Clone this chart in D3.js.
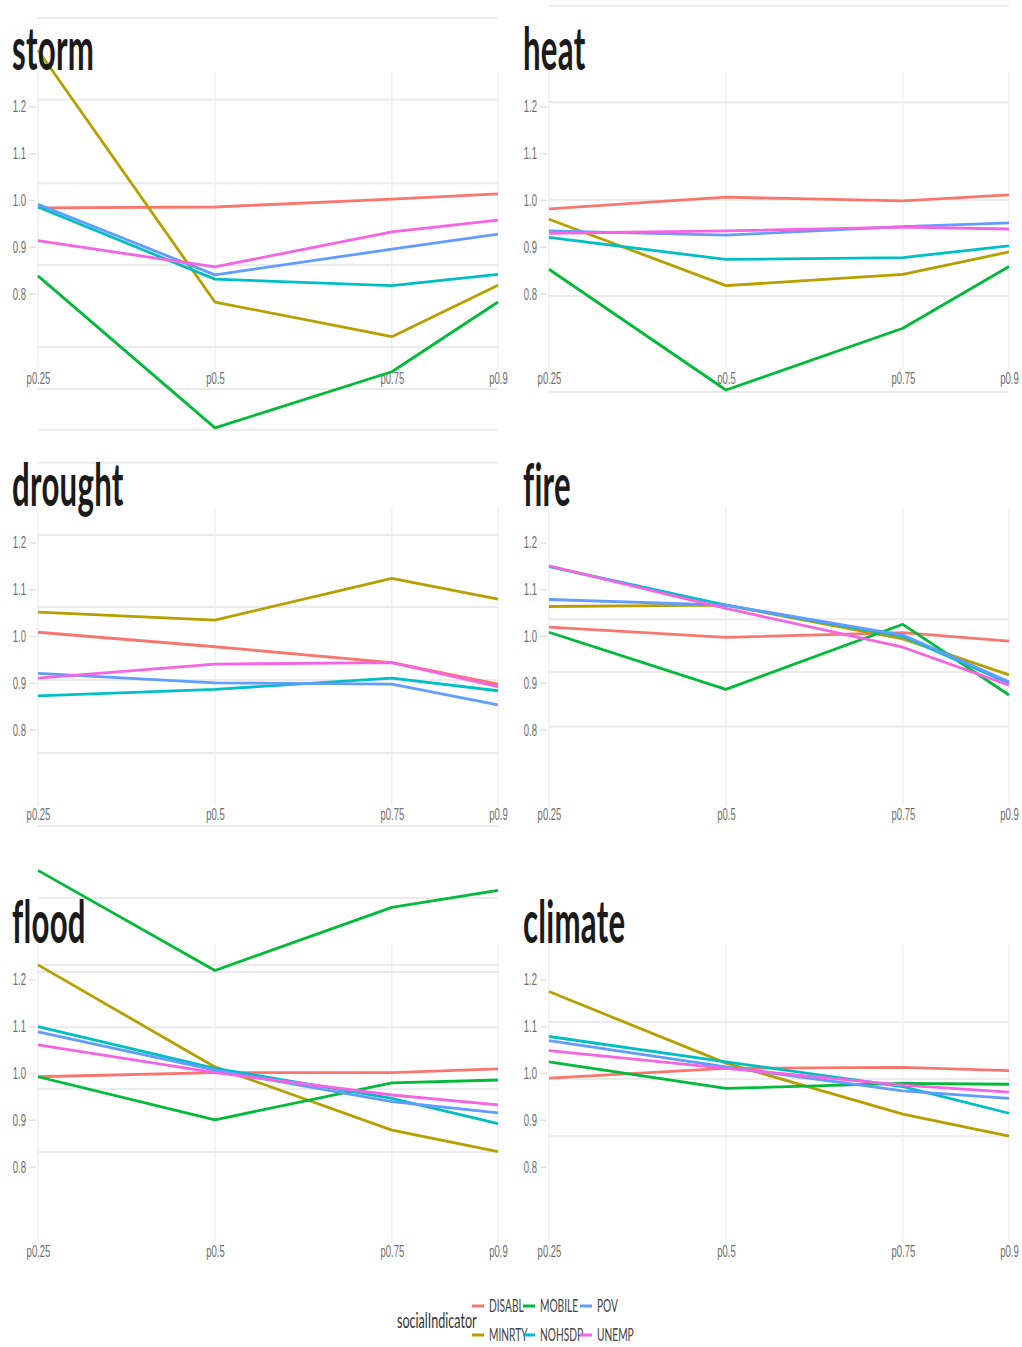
<!DOCTYPE html>
<html>
<head>
<meta charset="utf-8">
<script src="https://cdn.jsdelivr.net/npm/d3@7"></script>
<style>
  body { margin: 0; background: #fff; }
  svg { display: block; font-family: Lato, "Open Sans", sans-serif; }
  svg text { font-variant-ligatures: none; font-feature-settings: "liga" 0, "clig" 0; }
</style>
</head>
<body>
<div id="chart"></div>
<script>
const quantiles = [0.25, 0.5, 0.75, 0.9];
const indicators = ["DISABL", "MINRTY", "MOBILE", "NOHSDP", "POV", "UNEMP"];
const palette = ["#F8766D", "#B79F00", "#00BA38", "#00BFC4", "#619CFF", "#F564E3"];
const hazards = ["storm", "heat", "drought", "fire", "flood", "climate"];
const yTicks = [0.8, 0.9, 1.0, 1.1, 1.2];

// one row per line: indicator, then value at p0.25, p0.5, p0.75, p0.9
const storm = [
  ["DISABL", 0.983, 0.985, 1.002, 1.013],
  ["MINRTY", 1.320, 0.782, 0.708, 0.818],
  ["MOBILE", 0.838, 0.513, 0.633, 0.782],
  ["NOHSDP", 0.985, 0.831, 0.817, 0.841],
  ["POV",    0.991, 0.840, 0.895, 0.927],
  ["UNEMP",  0.913, 0.857, 0.932, 0.957]
];
const heat = [
  ["DISABL", 0.981, 1.006, 0.998, 1.011],
  ["MINRTY", 0.959, 0.817, 0.841, 0.889],
  ["MOBILE", 0.852, 0.594, 0.726, 0.858],
  ["NOHSDP", 0.920, 0.873, 0.877, 0.902],
  ["POV",    0.934, 0.925, 0.943, 0.951],
  ["UNEMP",  0.929, 0.934, 0.942, 0.938]
];
const drought = [
  ["DISABL", 1.008, 0.977, 0.943, 0.897],
  ["MINRTY", 1.051, 1.034, 1.123, 1.079],
  ["NOHSDP", 0.872, 0.886, 0.910, 0.883],
  ["POV",    0.920, 0.900, 0.897, 0.853],
  ["UNEMP",  0.910, 0.940, 0.943, 0.892]
];
const fire = [
  ["DISABL", 1.019, 0.997, 1.007, 0.989],
  ["MINRTY", 1.063, 1.066, 0.994, 0.917],
  ["MOBILE", 1.008, 0.886, 1.025, 0.874],
  ["NOHSDP", 1.148, 1.066, 0.999, 0.899],
  ["POV",    1.078, 1.066, 1.002, 0.902],
  ["UNEMP",  1.150, 1.059, 0.976, 0.895]
];
const flood = [
  ["DISABL", 0.992, 1.001, 1.001, 1.009],
  ["MINRTY", 1.231, 1.013, 0.878, 0.832],
  ["MOBILE", 1.433, 1.219, 1.354, 1.390],
  ["MOBILE", 0.992, 0.900, 0.979, 0.985],
  ["NOHSDP", 1.099, 1.010, 0.946, 0.892],
  ["POV",    1.088, 1.006, 0.939, 0.915],
  ["UNEMP",  1.060, 1.001, 0.953, 0.932]
];
const climate = [
  ["DISABL", 0.989, 1.010, 1.012, 1.005],
  ["MINRTY", 1.174, 1.021, 0.912, 0.865],
  ["MOBILE", 1.024, 0.967, 0.978, 0.976],
  ["NOHSDP", 1.078, 1.024, 0.971, 0.914],
  ["POV",    1.069, 1.013, 0.962, 0.946],
  ["UNEMP",  1.048, 1.010, 0.974, 0.959]
];
const panelData = [storm, heat, drought, fire, flood, climate];

// horizontal grid lines, in y units of each panel
const gridStorm = [1.389, 1.214, 1.036, 0.861, 0.686, 0.596, 0.509];
const gridHeat = [1.415, 1.209, 1.0, 0.795, 0.590];
const gridDrought = [1.370, 1.216, 1.062, 0.906, 0.750, 0.594];
const gridFire = [1.036, 0.923, 0.806];
const gridFlood = [1.374, 1.231, 1.216, 1.098, 0.966, 0.831];
const gridClimate = [1.109, 0.987, 0.865];
const panelGrid = [gridStorm, gridHeat, gridDrought, gridFire, gridFlood, gridClimate];

const W = 1022, H = 1347;
const colX = [[38, 498], [549, 1009]];
const rowMid = [200, 636, 1073];   // pixel of y = 1.0
const unitPx = 468;                // pixels per 1.0 of y
const textSqueeze = 0.56;

const color = d3.scaleOrdinal().domain(indicators).range(palette);

const svg = d3.select("#chart").append("svg")
  .attr("width", W)
  .attr("height", H);

function squeeze(sel, k) {
  sel.each(function () {
    const t = d3.select(this);
    const x = +t.attr("x") || 0;
    const y = +t.attr("y") || 0;
    t.attr("x", 0).attr("y", 0)
      .attr("transform", `translate(${x},${y}) scale(${k},1)`);
  });
}

hazards.forEach((hz, i) => {
  const col = i % 2, row = Math.floor(i / 2);
  const [x0, x1] = colX[col];
  const mid = rowMid[row];

  const x = d3.scaleLinear().domain([0.25, 0.9]).range([x0, x1]);
  const y = d3.scaleLinear().domain([0.8, 1.2])
    .range([mid + 0.2 * unitPx, mid - 0.2 * unitPx]);

  const g = svg.append("g").attr("class", "panel");

  // vertical grid
  g.selectAll(".vgrid")
    .data(quantiles)
    .enter()
    .append("line")
    .attr("class", "vgrid")
    .attr("x1", d => x(d)).attr("x2", d => x(d))
    .attr("y1", mid - 128).attr("y2", mid + 170)
    .attr("stroke", "#ececec")
    .attr("stroke-width", 1.2);

  // horizontal grid
  g.selectAll(".hgrid")
    .data(panelGrid[i])
    .enter()
    .append("line")
    .attr("class", "hgrid")
    .attr("x1", x0).attr("x2", x1)
    .attr("y1", d => y(d)).attr("y2", d => y(d))
    .attr("stroke", "#ebebeb")
    .attr("stroke-width", 2);

  // y axis
  const yAxis = g.append("g")
    .attr("transform", `translate(${x0 - 2},0)`)
    .call(d3.axisLeft(y).tickValues(yTicks).tickFormat(d3.format(".1f")).tickSize(7).tickPadding(3));
  yAxis.select(".domain").remove();
  yAxis.selectAll("line").attr("stroke", "#e3e3e3").attr("stroke-width", 1.5);
  yAxis.selectAll("text")
    .attr("fill", "#6e6e6e")
    .style("font-size", "17px")
    .call(squeeze, textSqueeze);

  // x axis labels
  const xAxis = g.append("g")
    .attr("transform", `translate(0,${mid + 172})`)
    .call(d3.axisBottom(x).tickValues(quantiles).tickFormat(d => "p" + d).tickSize(0).tickPadding(0));
  xAxis.select(".domain").remove();
  xAxis.selectAll("text")
    .attr("fill", "#6e6e6e")
    .style("font-size", "17px")
    .call(squeeze, textSqueeze);

  // lines
  const line = d3.line()
    .x((d, j) => x(quantiles[j]))
    .y(d => y(d));

  g.selectAll(".series")
    .data(panelData[i])
    .enter()
    .append("path")
    .attr("class", "series")
    .attr("d", d => line(d.slice(1)))
    .attr("fill", "none")
    .attr("stroke", d => color(d[0]))
    .attr("stroke-width", 2.8)
    .attr("stroke-linejoin", "round");

  // facet title
  g.append("text")
    .attr("x", col === 0 ? 12 : 523)
    .attr("y", mid - 130)
    .attr("fill", "#1a1a1a")
    .style("font-size", "60px")
    .style("font-weight", 700)
    .style("letter-spacing", "0.5px")
    .text(hz)
    .call(squeeze, 0.52);
});

// legend
const legend = svg.append("g").attr("class", "legend");
legend.append("text")
  .attr("x", 397).attr("y", 1328)
  .attr("fill", "#333")
  .style("font-size", "21px")
  .text("socialIndicator")
  .call(squeeze, 0.6);

const legendCols = [472, 523, 580];
const legendRows = [1306, 1335];
const item = legend.selectAll(".item")
  .data(indicators)
  .enter()
  .append("g")
  .attr("class", "item")
  .attr("transform", (d, i) => `translate(${legendCols[Math.floor(i / 2)]},${legendRows[i % 2]})`);

item.append("line")
  .attr("x1", 0).attr("x2", 12)
  .attr("stroke", d => color(d))
  .attr("stroke-width", 3);

item.append("text")
  .attr("x", 17).attr("y", 6)
  .attr("fill", "#444")
  .style("font-size", "17px")
  .text(d => d)
  .call(squeeze, 0.6);
</script>
</body>
</html>
